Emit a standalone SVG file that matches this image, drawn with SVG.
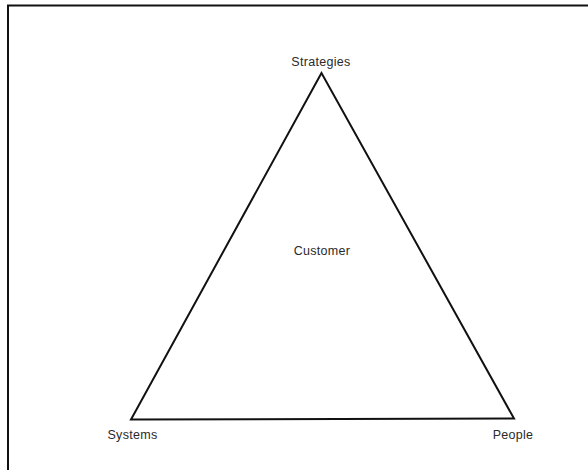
<svg xmlns="http://www.w3.org/2000/svg" width="588" height="470" viewBox="0 0 588 470">
<style>
.lbl{font-family:"Liberation Sans",Arial,sans-serif;font-size:12.5px;letter-spacing:0.3px;fill:#2a2a2a;text-anchor:middle}
.edge{fill:none;stroke:#111;stroke-width:2;stroke-linejoin:miter}
</style>
<rect width="588" height="470" fill="#fff"/>
<rect x="8" y="5.5" width="600" height="480" fill="none" stroke="#111" stroke-width="2"/>
<g id="connectors">
<polygon class="edge" points="321.5,73 131,419.5 514,418.5"/>
</g>
<g id="strategies"><text class="lbl" x="321" y="66">Strategies</text></g>
<g id="customer"><text class="lbl" x="322" y="255">Customer</text></g>
<g id="systems"><text class="lbl" x="132.5" y="439">Systems</text></g>
<g id="people"><text class="lbl" x="513" y="439">People</text></g>
</svg>
